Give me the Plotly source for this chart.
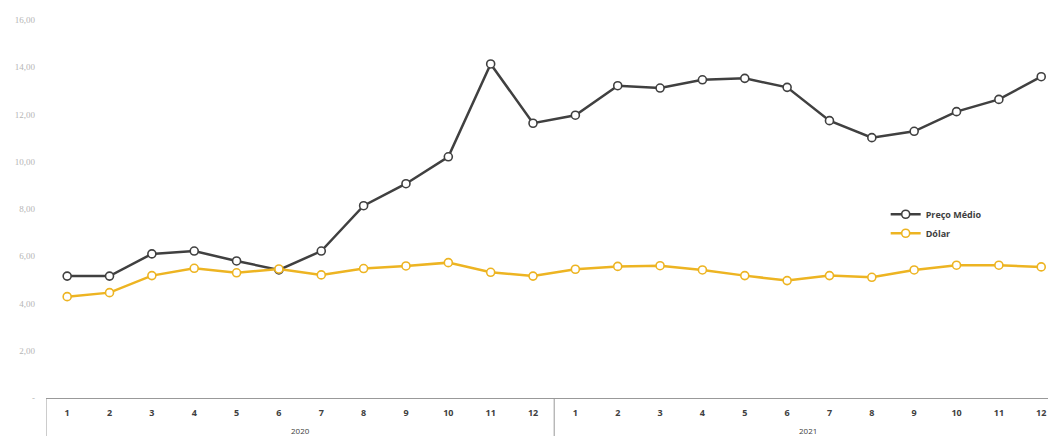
import plotly.graph_objects as go

years = ["2020", "2021"]
months = [str(m) for m in range(1, 13)]
preco_medio = [5.16, 5.16, 6.10, 6.22, 5.80, 5.42, 6.22, 8.14, 9.07, 10.21, 14.14, 11.63,
               11.97, 13.22, 13.12, 13.47, 13.53, 13.15, 11.74, 11.02, 11.29, 12.12, 12.64, 13.60]
dolar = [4.29, 4.46, 5.18, 5.49, 5.30, 5.46, 5.21, 5.48, 5.59, 5.73, 5.32, 5.16,
         5.45, 5.57, 5.60, 5.42, 5.18, 4.97, 5.18, 5.11, 5.42, 5.62, 5.62, 5.55]
y_tickvals = [0, 2, 4, 6, 8, 10, 12, 14, 16]
y_ticktext = ["-", "2,00", "4,00", "6,00", "8,00", "10,00", "12,00", "14,00", "16,00"]

n = len(years) * len(months)
xs = list(range(n))
month_labels = months * len(years)

fig = go.Figure()
fig.add_trace(go.Scatter(
    x=xs, y=preco_medio, name="Preço Médio", mode="lines+markers",
    line=dict(color="#404040", width=2.5),
    marker=dict(symbol="circle", size=8, color="white", line=dict(color="#404040", width=1.6)),
))
fig.add_trace(go.Scatter(
    x=xs, y=dolar, name="Dólar", mode="lines+markers",
    line=dict(color="#EDB422", width=2.5),
    marker=dict(symbol="circle", size=8, color="white", line=dict(color="#EDB422", width=1.6)),
))

# year group dividers and labels
for i, yr in enumerate(years):
    start = i * len(months) - 0.5
    fig.add_shape(type="line", xref="x", yref="paper", x0=start, x1=start, y0=0, y1=-0.14,
                  line=dict(color="#999999", width=1))
    fig.add_annotation(x=start + len(months) / 2, xref="x", y=0, yref="paper",
                       text=yr, showarrow=False, yanchor="top", yshift=-25,
                       font=dict(family="Open Sans", size=8, color="#404040"))
end = n - 0.5
fig.add_shape(type="line", xref="x", yref="paper", x0=end, x1=end, y0=0, y1=-0.14,
              line=dict(color="#999999", width=1))

fig.update_layout(
    width=1048, height=436,
    margin=dict(l=46, r=0, t=20, b=38),
    paper_bgcolor="white", plot_bgcolor="white",
    showlegend=True,
    legend=dict(x=0.838, y=0.461, xanchor="left", yanchor="middle",
                bgcolor="rgba(0,0,0,0)", tracegroupgap=2, itemwidth=30,
                font=dict(family="Open Sans", size=9, color="#404040", weight="bold")),
    xaxis=dict(
        range=[-0.5, 23.16], tickmode="array", tickvals=xs, ticktext=month_labels,
        showgrid=False, zeroline=False, showline=True, linecolor="#999999", linewidth=1,
        ticks="", ticklabelstandoff=6,
        tickfont=dict(family="Open Sans", size=9, color="#404040", weight="bold"),
    ),
    yaxis=dict(
        range=[0, 16], tickmode="array", tickvals=y_tickvals, ticktext=y_ticktext,
        showgrid=False, zeroline=False, showline=False, ticks="", ticklabelstandoff=10,
        tickfont=dict(family="Liberation Serif", size=9, color="#b5b5b5"),
    ),
)

fig.write_html("out.html")
